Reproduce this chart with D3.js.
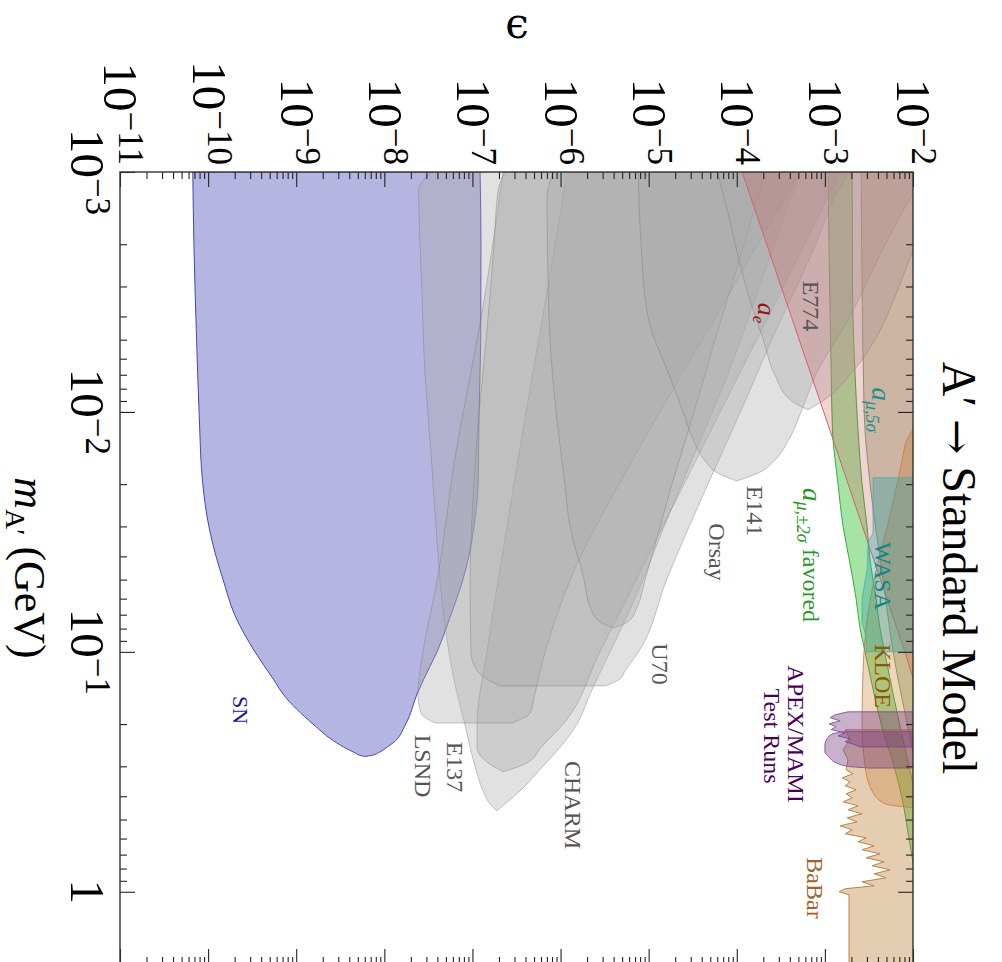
<!DOCTYPE html>
<html>
<head>
<meta charset="utf-8">
<script src="https://cdn.jsdelivr.net/npm/d3@7"></script>
<style>
  html, body { margin: 0; padding: 0; background: #fff; }
  svg { display: block; }
</style>
</head>
<body>
<svg id="chart" width="1002" height="962"></svg>
<script>
// Exclusion regions for a dark photon A' decaying to Standard Model final states.
// Each row: [m_A' (GeV), lower epsilon, upper epsilon].

const SN = [
  [0.001, 6.7e-11, 1.22e-7], [0.002, 6.9e-11, 1.25e-7], [0.005, 7.4e-11, 1.24e-7],
  [0.01, 7.9e-11, 1.19e-7], [0.02, 8.7e-11, 1.16e-7], [0.03, 1.02e-10, 1.04e-7],
  [0.04, 1.23e-10, 9.1e-8], [0.05, 1.48e-10, 7.8e-8], [0.07, 2.0e-10, 5.7e-8],
  [0.1, 3.4e-10, 3.96e-8], [0.13, 5.5e-10, 2.8e-8], [0.15, 7.1e-10, 2.35e-8],
  [0.2, 1.55e-9, 1.75e-8], [0.24, 2.9e-9, 1.25e-8], [0.25, 3.5e-9, 1.07e-8],
  [0.262, 4.5e-9, 8.8e-9], [0.27, 5.3e-9, 7.2e-9], [0.273, 6.0e-9, 6.0e-9]
];

const E137 = [
  [0.001, 3.4e-8, 5.2e-4], [0.0012, 2.45e-8, 4.4e-4], [0.003, 2.66e-8, 1.8e-4],
  [0.007, 2.9e-8, 7.9e-5], [0.015, 3.39e-8, 3.3e-5], [0.03, 3.86e-8, 1.5e-5],
  [0.06, 4.5e-8, 7.0e-6], [0.1, 5.4e-8, 3.65e-6], [0.15, 6.7e-8, 2.16e-6],
  [0.2, 8.2e-8, 1.54e-6], [0.25, 9.4e-8, 9.86e-7], [0.3, 1.07e-7, 6.3e-7],
  [0.38, 1.32e-7, 3.47e-7], [0.43, 1.58e-7, 2.34e-7], [0.46, 1.9e-7, 1.9e-7]
];

const CHARM = [
  [0.001, 1.19e-6, 1.5e-3], [0.003, 7.2e-7, 3.4e-4], [0.01, 4.06e-7, 6.5e-5],
  [0.03, 2.47e-7, 1.45e-5], [0.1, 1.46e-7, 2.8e-6], [0.2, 1.13e-7, 1.07e-6],
  [0.25, 1.13e-7, 6.0e-7], [0.29, 1.5e-7, 4.2e-7], [0.316, 2.23e-7, 2.23e-7]
];

const LSND = [
  [0.001, 2.23e-7, 5.2e-4], [0.00376, 1.3e-7, 6.4e-5], [0.0158, 6.3e-8, 6.6e-6],
  [0.05, 4.0e-8, 1.29e-6], [0.1, 2.75e-8, 6.7e-7], [0.15, 2.41e-8, 5.1e-7],
  [0.18, 2.61e-8, 4.5e-7], [0.198, 3.76e-8, 2.81e-7]
];

const U70 = [
  [0.001, 2.34e-7, 1.9e-3], [0.0012, 1.95e-7, 1.4e-3], [0.002, 1.76e-7, 7.9e-4],
  [0.005, 1.43e-7, 2.5e-4], [0.01, 1.19e-7, 1.1e-4], [0.02, 1.04e-7, 4.7e-5],
  [0.05, 9.4e-8, 1.6e-5], [0.1, 9.6e-8, 7.7e-6], [0.12, 1.13e-7, 5.4e-6],
  [0.13, 1.46e-7, 4.7e-6], [0.1386, 2.06e-7, 3.2e-6]
];

const ORSAY = [
  [0.001, 8.2e-7, 2.15e-4], [0.0013, 7.0e-7, 1.7e-4], [0.002, 7.1e-7, 1.21e-4],
  [0.005, 7.6e-7, 5.67e-5], [0.01, 8.9e-7, 3.28e-5], [0.02, 1.12e-6, 1.84e-5],
  [0.03, 1.28e-6, 1.35e-5], [0.05, 1.85e-6, 9.1e-6], [0.065, 2.16e-6, 7.4e-6],
  [0.075, 2.81e-6, 5.84e-6], [0.0794, 3.94e-6, 3.94e-6]
];

const E141 = [
  [0.001, 7.6e-6, 1.37e-2], [0.002, 8.2e-6, 4.83e-3], [0.004, 9.8e-6, 1.93e-3],
  [0.007, 1.7e-5, 7.9e-4], [0.01, 2.46e-5, 5.37e-4], [0.013, 3.19e-5, 3.92e-4],
  [0.016, 4.37e-5, 2.65e-4], [0.018, 6.13e-5, 1.74e-4], [0.0194, 1.0e-4, 1.0e-4]
];

const E774 = [
  [0.001, 6.0e-5, 2.5e-2], [0.0015, 8.0e-5, 1.7e-2], [0.002, 9.6e-5, 1.08e-2],
  [0.003, 1.27e-4, 6.95e-3], [0.005, 2.0e-4, 3.7e-3], [0.007, 2.7e-4, 1.93e-3],
  [0.009, 4.2e-4, 9.5e-4], [0.0098, 6.4e-4, 6.4e-4]
];

const AE = [
  [0.001, 1.15e-4, 1], [0.01, 9.7e-4, 1], [0.1, 8.1e-3, 1], [0.15, 1.14e-2, 1], [2, 0.15, 1]
];

const AMU_FAVORED = [
  [0.001, 1.09e-3, 2.04e-3], [0.003, 1.13e-3, 2.06e-3], [0.007, 1.18e-3, 2.2e-3],
  [0.012, 1.22e-3, 2.38e-3], [0.02, 1.41e-3, 2.64e-3], [0.03, 1.61e-3, 3.01e-3],
  [0.04, 1.86e-3, 3.22e-3], [0.06, 2.26e-3, 3.81e-3], [0.08, 2.51e-3, 4.23e-3],
  [0.1, 2.86e-3, 4.76e-3], [0.15, 3.62e-3, 5.95e-3], [0.2, 4.35e-3, 7.05e-3],
  [0.3, 6.1e-3, 9.0e-3], [0.4, 7.43e-3, 1.08e-2], [0.6, 9.0e-3, 1.27e-2], [1, 1.14e-2, 1.57e-2]
];

const AMU_5SIGMA = [
  [0.001, 2.58e-3, 1], [0.01, 2.79e-3, 1], [0.02, 3.26e-3, 1], [0.05, 4.58e-3, 1],
  [0.1, 5.95e-3, 1], [0.2, 8.6e-3, 1], [0.3, 1.08e-2, 1]
];

const KLOE = [
  [0.0105, 1.3e-2, 1], [0.013, 8.6e-3, 1], [0.016, 7.5e-3, 1], [0.02, 6.6e-3, 1],
  [0.03, 5.1e-3, 1], [0.05, 3.62e-3, 1], [0.08, 2.93e-3, 1], [0.12, 2.71e-3, 1],
  [0.2, 2.64e-3, 1], [0.3, 2.86e-3, 1], [0.38, 3.43e-3, 1], [0.43, 4.83e-3, 1],
  [0.45, 1.3e-2, 1]
];

const WASA = [
  [0.0188, 3.52e-3, 1], [0.032, 3.52e-3, 1], [0.035, 3.09e-3, 1], [0.045, 3.03e-3, 1],
  [0.06, 2.64e-3, 1], [0.075, 2.64e-3, 1], [0.085, 2.9e-3, 1], [0.1, 2.97e-3, 1]
];

const APEX = [
  [0.1778, 1.83e-3, 1], [0.183, 1.31e-3, 1], [0.188, 1.15e-3, 1], [0.194, 1.49e-3, 1],
  [0.1995, 1.12e-3, 1], [0.205, 1.34e-3, 1], [0.211, 1.18e-3, 1], [0.2175, 1.7e-3, 1],
  [0.224, 1.41e-3, 1], [0.2305, 1.93e-3, 1], [0.237, 1.7e-3, 1], [0.244, 2.2e-3, 1],
  [0.249, 2.51e-3, 1]
];

const MAMI = [
  [0.215, 1.7e-3, 1], [0.22, 1.21e-3, 1], [0.23, 1.06e-3, 1], [0.245, 1.0e-3, 1],
  [0.26, 1.0e-3, 1], [0.275, 1.12e-3, 1], [0.29, 1.34e-3, 1], [0.3, 1.83e-3, 1],
  [0.305, 3.26e-3, 1]
];

const BABAR = [
  [0.2113, 1.70e-3, 1], [0.2326, 1.93e-3, 1], [0.2561, 1.61e-3, 1], [0.2818, 1.83e-3, 1],
  [0.3102, 1.74e-3, 1], [0.3224, 2.09e-3, 1], [0.335, 1.57e-3, 1], [0.348, 1.93e-3, 1],
  [0.3616, 1.70e-3, 1], [0.3758, 2.26e-3, 1], [0.3905, 1.74e-3, 1], [0.4058, 2.04e-3, 1],
  [0.4217, 1.61e-3, 1], [0.4382, 2.38e-3, 1], [0.4553, 1.83e-3, 1], [0.4732, 2.64e-3, 1],
  [0.4917, 1.79e-3, 1], [0.5109, 2.32e-3, 1], [0.5309, 1.49e-3, 1], [0.5517, 2.04e-3, 1],
  [0.5733, 1.70e-3, 1], [0.5957, 2.93e-3, 1], [0.619, 2.38e-3, 1], [0.6433, 3.62e-3, 1],
  [0.6683, 2.64e-3, 1], [0.6945, 4.23e-3, 1], [0.7217, 2.93e-3, 1], [0.7499, 4.70e-3, 1],
  [0.7793, 3.43e-3, 1], [0.8098, 5.50e-3, 1], [0.8414, 3.62e-3, 1], [0.8744, 4.95e-3, 1],
  [0.9086, 2.64e-3, 1], [0.9441, 3.62e-3, 1], [0.9716, 1.70e-3, 1], [1.0, 1.45e-3, 1],
  [1.029, 1.88e-3, 1], [2.5, 1.88e-3, 1]
];

// Axis ticks
const epsMajor = [1e-11, 1e-10, 1e-9, 1e-8, 1e-7, 1e-6, 1e-5, 1e-4, 1e-3, 1e-2];
const epsExp = [-11, -10, -9, -8, -7, -6, -5, -4, -3, -2];
const massMajor = [0.001, 0.01, 0.1, 1];
const massLabels = [["10", "−3"], ["10", "−2"], ["10", "−1"], ["1", ""]];

// Layout: mass runs downward, epsilon runs to the right.
const X0 = 120, X1 = 913, Y0 = 172, Y1 = 964;
const xe = d3.scaleLog().domain([1e-11, 1e-2]).range([X0, X1]);
const ym = d3.scaleLog().domain([1e-3, 2]).range([Y0, Y1]);

const svg = d3.select("#chart");
const SERIF = "'Liberation Serif', 'Times New Roman', serif";

svg.append("defs").append("clipPath").attr("id", "plotClip")
  .append("rect").attr("x", X0).attr("y", Y0).attr("width", X1 - X0).attr("height", Y1 - Y0);

const plot = svg.append("g").attr("clip-path", "url(#plotClip)");

function region(data, fill, stroke, curve, width) {
  const area = d3.area()
    .y(d => ym(d[0]))
    .x0(d => xe(d[1]))
    .x1(d => xe(d[2]))
    .curve(curve || d3.curveMonotoneY);
  plot.append("path").datum(data)
    .attr("d", area)
    .attr("fill", fill)
    .attr("stroke", stroke)
    .attr("stroke-width", width || 1)
    .attr("stroke-linejoin", "round");
}

const GRAY = "rgba(168,168,168,0.35)", GRAY_EDGE = "rgba(120,120,120,0.4)";

region(AMU_5SIGMA, "rgba(110,140,70,0.35)", "rgba(90,150,80,0.8)");
region(AMU_FAVORED, "rgba(40,190,40,0.42)", "rgb(60,170,60)");
region(SN, "rgba(90,90,190,0.45)", "rgb(70,70,175)");
[E137, CHARM, LSND, U70, ORSAY, E141, E774].forEach(r => region(r, GRAY, GRAY_EDGE));
region(AE, "rgba(205,85,85,0.26)", "rgb(212,100,100)", d3.curveLinear);
region(KLOE, "rgba(200,120,40,0.3)", "rgba(200,120,60,0.8)");
region(WASA, "rgba(40,160,170,0.35)", "rgba(80,170,170,0.8)", d3.curveLinear);
region(BABAR, "rgba(190,130,60,0.4)", "rgb(190,130,70)", d3.curveLinear);
region(APEX, "rgba(120,60,130,0.4)", "rgba(130,80,140,0.9)", d3.curveLinear);
region(MAMI, "rgba(120,60,130,0.4)", "rgba(130,80,140,0.9)");

// Ticks (all pointing into the frame)
function minorTicks(lo, hi) {
  const out = [];
  for (let d = lo; d < hi * 1.0001; d *= 10) for (let k = 2; k <= 9; k++) if (d * k <= hi) out.push(d * k);
  return out;
}
const epsMinor = minorTicks(1e-11, 1e-2);
const massMinor = minorTicks(1e-3, 2);

function drawAxis(gen, transform, values, size) {
  const g = svg.append("g").attr("transform", transform)
    .call(gen.tickValues(values).tickSize(size).tickFormat(""));
  g.select(".domain").remove();
  g.selectAll("line").attr("stroke", "#222").attr("stroke-width", 1.1);
}
drawAxis(d3.axisTop(xe), `translate(0,${Y0})`, epsMajor, -15);
drawAxis(d3.axisTop(xe), `translate(0,${Y0})`, epsMinor, -7);
drawAxis(d3.axisBottom(xe), `translate(0,${Y1})`, epsMajor, -15);
drawAxis(d3.axisBottom(xe), `translate(0,${Y1})`, epsMinor, -7);
drawAxis(d3.axisLeft(ym), `translate(${X0},0)`, massMajor, -15);
drawAxis(d3.axisLeft(ym), `translate(${X0},0)`, massMinor, -7);
drawAxis(d3.axisRight(ym), `translate(${X1},0)`, massMajor, -15);
drawAxis(d3.axisRight(ym), `translate(${X1},0)`, massMinor, -7);

svg.append("rect").attr("x", X0).attr("y", Y0).attr("width", X1 - X0).attr("height", Y1 - Y0)
  .attr("fill", "none").attr("stroke", "#333").attr("stroke-width", 1.4);

// Text rotated a quarter turn clockwise; runs may be shifted as sub/superscripts.
function rotText(x, y, runs, opt) {
  const t = svg.append("text")
    .attr("transform", `translate(${x},${y}) rotate(90)`)
    .attr("text-anchor", opt.anchor || "middle")
    .attr("font-family", opt.font || SERIF)
    .attr("font-size", opt.size)
    .attr("fill", opt.color || "#000");
  let shift = 0;
  runs.forEach(r => {
    const s = t.append("tspan").text(r.t);
    const target = r.shift || 0;
    s.attr("dy", target - shift);
    shift = target;
    if (r.size) s.attr("font-size", r.size);
    if (r.italic) s.attr("font-style", "italic");
    if (r.font) s.attr("font-family", r.font);
  });
  return t;
}

// Epsilon tick labels along the top
epsMajor.forEach((v, i) => {
  rotText(xe(v) - 15.6, 165, [{ t: "10" }, { t: "−" + Math.abs(epsExp[i]), size: 35, shift: -15 }],
    { anchor: "end", size: 49 });
});

// Mass tick labels on the left
massMajor.forEach((v, i) => {
  const [base, ex] = massLabels[i];
  const runs = [{ t: base }];
  if (ex) runs.push({ t: ex, size: 35, shift: -15 });
  rotText(71, ym(v), runs, { anchor: "middle", size: 49 });
});

// Axis titles
svg.append("text").attr("x", 517).attr("y", 38).attr("text-anchor", "middle")
  .attr("font-family", "'DejaVu Serif', serif").attr("font-size", 42).text("ϵ");

rotText(15, 568, [
  { t: "m", italic: true },
  { t: "A′", size: 28, shift: 9 },
  { t: " (GeV)", shift: 0 }
], { size: 44 });

rotText(943, 568, [
  { t: "A′ " },
  { t: "→", font: "'DejaVu Serif', serif", size: 42 },
  { t: " Standard Model" }
], { size: 48 });

// Region labels
const GRAYTXT = "#555";
rotText(803, 306, [{ t: "E774" }], { size: 24, color: GRAYTXT });
rotText(758, 313, [{ t: "a", italic: true }, { t: "e", italic: true, size: 17, shift: 5 }], { size: 26, color: "#9a1010" });
rotText(872, 410, [{ t: "a", italic: true }, { t: "μ,5σ", italic: true, size: 18, shift: 6 }], { size: 27, color: "#1f9090" });
rotText(747, 511, [{ t: "E141" }], { size: 24, color: GRAYTXT });
rotText(709, 552, [{ t: "Orsay" }], { size: 24, color: GRAYTXT });
rotText(803, 555, [
  { t: "a", italic: true, size: 27 },
  { t: "μ,±2σ", italic: true, size: 18, shift: 6 },
  { t: " favored", shift: 0 }
], { size: 24, color: "#1f9a1f" });
rotText(875, 576, [{ t: "WASA" }], { size: 24, color: "#138585" });
rotText(875, 676, [{ t: "KLOE" }], { size: 24, color: "#8b5a00" });
rotText(788, 734, [{ t: "APEX/MAMI" }], { size: 24, color: "#4b0058" });
rotText(764, 736, [{ t: "Test Runs" }], { size: 24, color: "#4b0058" });
rotText(807, 888, [{ t: "BaBar" }], { size: 24, color: "#a2622a" });
rotText(652, 664, [{ t: "U70" }], { size: 24, color: GRAYTXT });
rotText(565, 805, [{ t: "CHARM" }], { size: 24, color: GRAYTXT });
rotText(447, 767, [{ t: "E137" }], { size: 24, color: GRAYTXT });
rotText(415, 766, [{ t: "LSND" }], { size: 24, color: GRAYTXT });
rotText(233, 710, [{ t: "SN" }], { size: 22, color: "#1a1a8c" });
</script>
</body>
</html>
